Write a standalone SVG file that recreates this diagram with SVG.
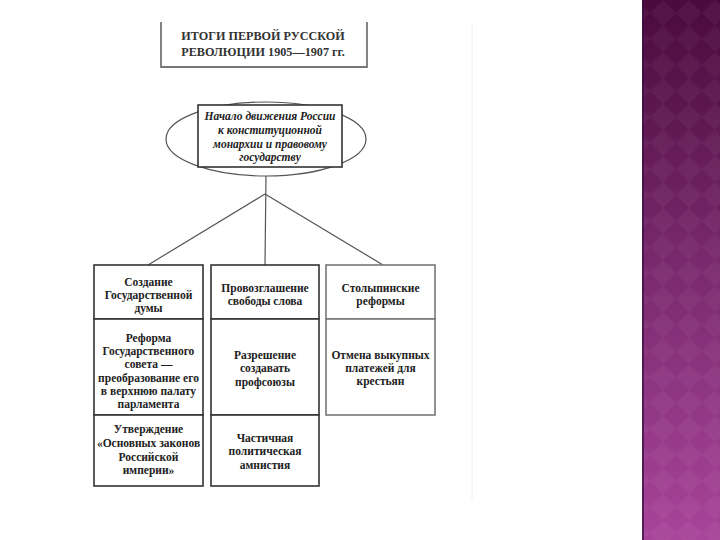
<svg xmlns="http://www.w3.org/2000/svg" width="720" height="540" viewBox="0 0 720 540">
<defs>
<style>
.t{font-family:"Liberation Serif","Times New Roman",serif;font-weight:bold;font-size:11.5px;fill:#222;text-anchor:middle}
.ti{font-family:"Liberation Serif","Times New Roman",serif;font-weight:bold;font-style:italic;font-size:11.5px;fill:#222;text-anchor:middle}
.h{font-family:"Liberation Serif","Times New Roman",serif;font-weight:bold;font-size:12.2px;fill:#333;text-anchor:middle}
.box{fill:#fff;stroke:#333;stroke-width:1.6}
.gbox{fill:#fff;stroke:#777;stroke-width:1.6}
.ln{stroke:#555;stroke-width:1.2;fill:none}
</style>
<linearGradient id="pg" x1="0" y1="0" x2="0" y2="1">
<stop offset="0" stop-color="#4a0a3c"/>
<stop offset="0.5" stop-color="#7a2a6e"/>
<stop offset="1" stop-color="#a8449a"/>
</linearGradient>
<pattern id="dia" width="26" height="26" patternUnits="userSpaceOnUse">
<path d="M13 0 L26 13 L13 26 L0 13 Z" fill="#fff" fill-opacity="0.04"/>
</pattern>
</defs>
<rect width="720" height="540" fill="#fff"/>
<g id="strip">
<rect x="642" y="0" width="78" height="540" fill="url(#pg)"/>
<rect x="642" y="0" width="78" height="540" fill="url(#dia)"/>
<line x1="643" y1="0" x2="643" y2="540" stroke="#3a1040" stroke-width="1.5"/>
</g>
<line x1="472" y1="23" x2="472" y2="500" stroke="#eee" stroke-width="1"/>
<g id="title">
<path d="M161 22 V67 H367 V22" fill="none" stroke="#777" stroke-width="1.8"/>
<text class="h" x="263" y="40">ИТОГИ ПЕРВОЙ РУССКОЙ</text>
<text class="h" x="263" y="56">РЕВОЛЮЦИИ 1905—1907 гг.</text>
</g>
<g id="connectors">
<line class="ln" x1="266" y1="176" x2="265" y2="265"/>
<line class="ln" x1="265" y1="194" x2="148" y2="265"/>
<line class="ln" x1="265" y1="194" x2="383" y2="265"/>
</g>
<g id="start">
<ellipse cx="266" cy="139" rx="100" ry="37" fill="#fff" stroke="#555" stroke-width="1.2"/>
<rect x="198" y="105" width="144" height="62" class="box"/>
<text class="ti" x="270" y="120">Начало движения России</text>
<text class="ti" x="270" y="134">к конституционной</text>
<text class="ti" x="270" y="148">монархии и правовому</text>
<text class="ti" x="270" y="161">государству</text>
</g>
<g id="duma">
<rect x="94" y="265" width="109" height="54" class="box"/>
<text class="t" x="148.5" y="286">Создание</text>
<text class="t" x="148.5" y="299">Государственной</text>
<text class="t" x="148.5" y="312">думы</text>
</g>
<g id="sovet">
<rect x="94" y="319" width="109" height="96" class="box"/>
<text class="t" x="148.5" y="342">Реформа</text>
<text class="t" x="148.5" y="355">Государственного</text>
<text class="t" x="148.5" y="368">совета —</text>
<text class="t" x="148.5" y="382">преобразование его</text>
<text class="t" x="148.5" y="395">в верхнюю палату</text>
<text class="t" x="148.5" y="408">парламента</text>
</g>
<g id="zakony">
<rect x="94" y="415" width="109" height="71" class="box"/>
<text class="t" x="148.5" y="433">Утверждение</text>
<text class="t" x="148.5" y="447">«Основных законов</text>
<text class="t" x="148.5" y="461">Российской</text>
<text class="t" x="148.5" y="474">империи»</text>
</g>
<g id="svoboda">
<rect x="211" y="265" width="108" height="54" class="box"/>
<text class="t" x="265" y="292">Провозглашение</text>
<text class="t" x="265" y="305">свободы слова</text>
</g>
<g id="profsoyuzy">
<rect x="211" y="319" width="108" height="96" class="box"/>
<text class="t" x="265" y="359">Разрешение</text>
<text class="t" x="265" y="372">создавать</text>
<text class="t" x="265" y="386">профсоюзы</text>
</g>
<g id="amnistiya">
<rect x="211" y="415" width="108" height="71" class="box"/>
<text class="t" x="265" y="442">Частичная</text>
<text class="t" x="265" y="455">политическая</text>
<text class="t" x="265" y="469">амнистия</text>
</g>
<g id="stolypin">
<rect x="326" y="265" width="109" height="54" class="gbox"/>
<text class="t" x="380.5" y="292">Столыпинские</text>
<text class="t" x="380.5" y="305">реформы</text>
</g>
<g id="otmena">
<rect x="326" y="319" width="109" height="96" class="gbox"/>
<text class="t" x="380.5" y="359">Отмена выкупных</text>
<text class="t" x="380.5" y="372">платежей для</text>
<text class="t" x="380.5" y="385">крестьян</text>
</g>
</svg>
